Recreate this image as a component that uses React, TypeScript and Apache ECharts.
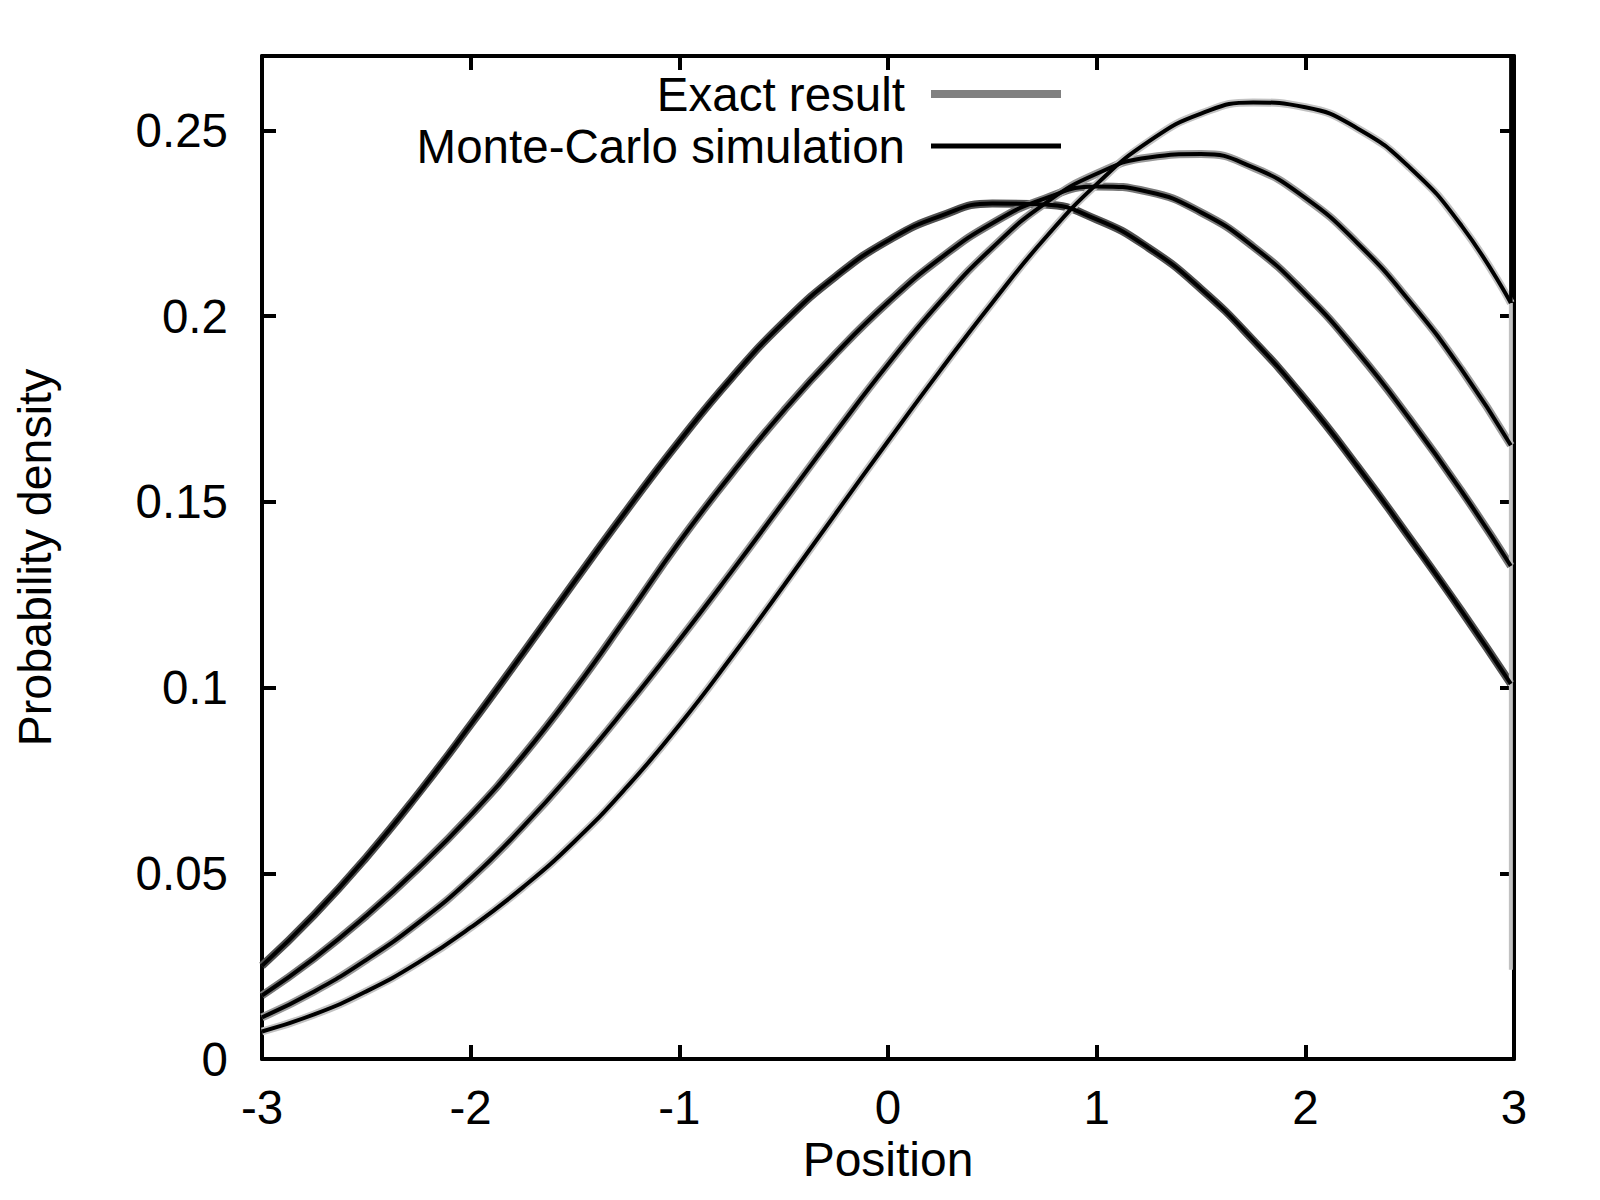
import React, { useEffect, useRef } from "react";
import * as echarts from "echarts";

// ---- data ----
const positions = [
  -3, -2.75, -2.5, -2.25, -2, -1.75, -1.5, -1.25, -1, -0.75, -0.5, -0.25, 0,
  0.25, 0.5, 0.75, 1, 1.25, 1.5, 1.75, 2, 2.25, 2.5, 2.75, 2.985,
];

const curveA = [
  0.0251, 0.0388, 0.0543, 0.0715, 0.09, 0.1092, 0.1287, 0.1479, 0.1663, 0.1833,
  0.1983, 0.2107, 0.2203, 0.2269, 0.2303, 0.23, 0.226, 0.2183, 0.2073, 0.1935,
  0.1775, 0.1595, 0.1403, 0.1205, 0.101,
];
const curveB = [
  0.0171, 0.0271, 0.0386, 0.0514, 0.0656, 0.0816, 0.0996, 0.1192, 0.1392, 0.1575,
  0.1745, 0.1899, 0.2037, 0.2155, 0.225, 0.2316, 0.2349, 0.2334, 0.2279, 0.2187,
  0.206, 0.1903, 0.1723, 0.1527, 0.1327,
];
const curveC = [
  0.0112, 0.0182, 0.0267, 0.0367, 0.0485, 0.0625, 0.0781, 0.095, 0.1128, 0.1312,
  0.15, 0.1688, 0.187, 0.2038, 0.2184, 0.2302, 0.2383, 0.2427, 0.2436, 0.24,
  0.2318, 0.2196, 0.204, 0.1855, 0.1652,
];
const curveD = [
  0.0074, 0.012, 0.0182, 0.026, 0.0354, 0.0462, 0.0587, 0.0733, 0.0899, 0.1082,
  0.1274, 0.1469, 0.1663, 0.1853, 0.2036, 0.2208, 0.2355, 0.247, 0.2545, 0.2575,
  0.2562, 0.2505, 0.24, 0.2242, 0.2035,
];

// boundary artefacts at the right wall (x = 3)
const exactEdgeValues = [0.2035, 0.024];
const mcEdgeValues = [0.2035, 0.27];
const edgePosition = 2.985;

const xTickLabels = ["-3", "-2", "-1", "0", "1", "2", "3"];
const yTickLabels = ["0", "0.05", "0.1", "0.15", "0.2", "0.25"];

const exactColors = ["#505050", "#777777", "#9a9a9a", "#c2c2c2"];
const curves = [curveA, curveB, curveC, curveD];

const FONT = "'Liberation Sans', Arial, Helvetica, sans-serif";

const pairs = (ys: number[]) => positions.map((x, i) => [x, ys[i]]);

export default function App() {
  const ref = useRef<HTMLDivElement>(null);

  useEffect(() => {
    if (!ref.current) return;
    const chart = echarts.init(ref.current, null, { renderer: "svg" });

    const axisCommon = {
      type: "value",
      axisLine: { show: true, onZero: false, lineStyle: { color: "#000", width: 4 } },
      axisTick: { show: true, inside: true, length: 14, lineStyle: { color: "#000", width: 4 } },
      splitLine: { show: false },
    };

    const exactSeries = curves.map((c, i) => ({
      name: "Exact result",
      type: "line",
      data: pairs(c),
      symbol: "none",
      smooth: true,
      lineStyle: { color: exactColors[i], width: 8 },
      itemStyle: { color: exactColors[i] },
      z: 2,
    }));
    const mcSeries = curves.map((c) => ({
      name: "Monte-Carlo simulation",
      type: "line",
      data: pairs(c),
      symbol: "none",
      smooth: true,
      lineStyle: { color: "#000", width: 4 },
      itemStyle: { color: "#000" },
      z: 3,
    }));

    const legendText = { fontSize: 47.5, color: "#000", fontFamily: FONT, padding: [0, 21, 0, 0] };

    const option = {
      animation: false,
      backgroundColor: "#ffffff",
      textStyle: { fontFamily: FONT },
      grid: { left: 262, right: 86, top: 56, bottom: 141, containLabel: false },
      legend: [
        {
          data: [{ name: "Exact result", icon: "rect", itemStyle: { color: "#808080", borderWidth: 0 } }],
          right: 539,
          top: 70,
          padding: 0,
          align: "right",
          itemWidth: 130,
          itemHeight: 8,
          selectedMode: false,
          textStyle: legendText,
        },
        {
          data: [{ name: "Monte-Carlo simulation", icon: "rect", itemStyle: { color: "#000", borderWidth: 0 } }],
          right: 539,
          top: 122,
          padding: 0,
          align: "right",
          itemWidth: 130,
          itemHeight: 5,
          selectedMode: false,
          textStyle: legendText,
        },
      ],
      xAxis: [
        {
          ...axisCommon,
          position: "bottom",
          min: -3,
          max: 3,
          interval: 1,
          name: "Position",
          nameLocation: "middle",
          nameGap: 74,
          nameTextStyle: { fontSize: 48, color: "#000", fontFamily: FONT },
          axisLabel: {
            fontSize: 47.5,
            color: "#000",
            margin: 24,
            fontFamily: FONT,
            formatter: (v: number) => xTickLabels[Math.round(v + 3)] ?? "",
          },
        },
        {
          ...axisCommon,
          position: "top",
          min: -3,
          max: 3,
          interval: 1,
          axisLabel: { show: false },
        },
      ],
      yAxis: [
        {
          ...axisCommon,
          position: "left",
          min: 0,
          max: 0.27,
          interval: 0.05,
          name: "Probability density",
          nameLocation: "middle",
          nameGap: 204,
          nameTextStyle: { fontSize: 46.5, color: "#000", fontFamily: FONT },
          axisLabel: {
            fontSize: 47.5,
            color: "#000",
            margin: 34,
            fontFamily: FONT,
            showMaxLabel: false,
            formatter: (v: number) => {
              const idx = Math.round(v / 0.05);
              return Math.abs(idx * 0.05 - v) < 1e-6 ? yTickLabels[idx] ?? "" : "";
            },
          },
        },
        {
          ...axisCommon,
          position: "right",
          min: 0,
          max: 0.27,
          interval: 0.05,
          axisLabel: { show: false },
        },
      ],
      series: [
        ...exactSeries,
        {
          name: "exact-edge",
          type: "line",
          data: exactEdgeValues.map((v) => [edgePosition, v]),
          symbol: "none",
          lineStyle: { color: "#c2c2c2", width: 4 },
          z: 2,
        },
        ...mcSeries,
        {
          name: "mc-edge",
          type: "line",
          data: mcEdgeValues.map((v) => [edgePosition, v]),
          symbol: "none",
          lineStyle: { color: "#000", width: 3.5 },
          z: 3,
        },
      ],
    };

    chart.setOption(option as any);
    return () => chart.dispose();
  }, []);

  return (
    <div
      ref={ref}
      style={{ position: "absolute", left: 0, top: 0, width: 1600, height: 1200, background: "#fff" }}
    />
  );
}
